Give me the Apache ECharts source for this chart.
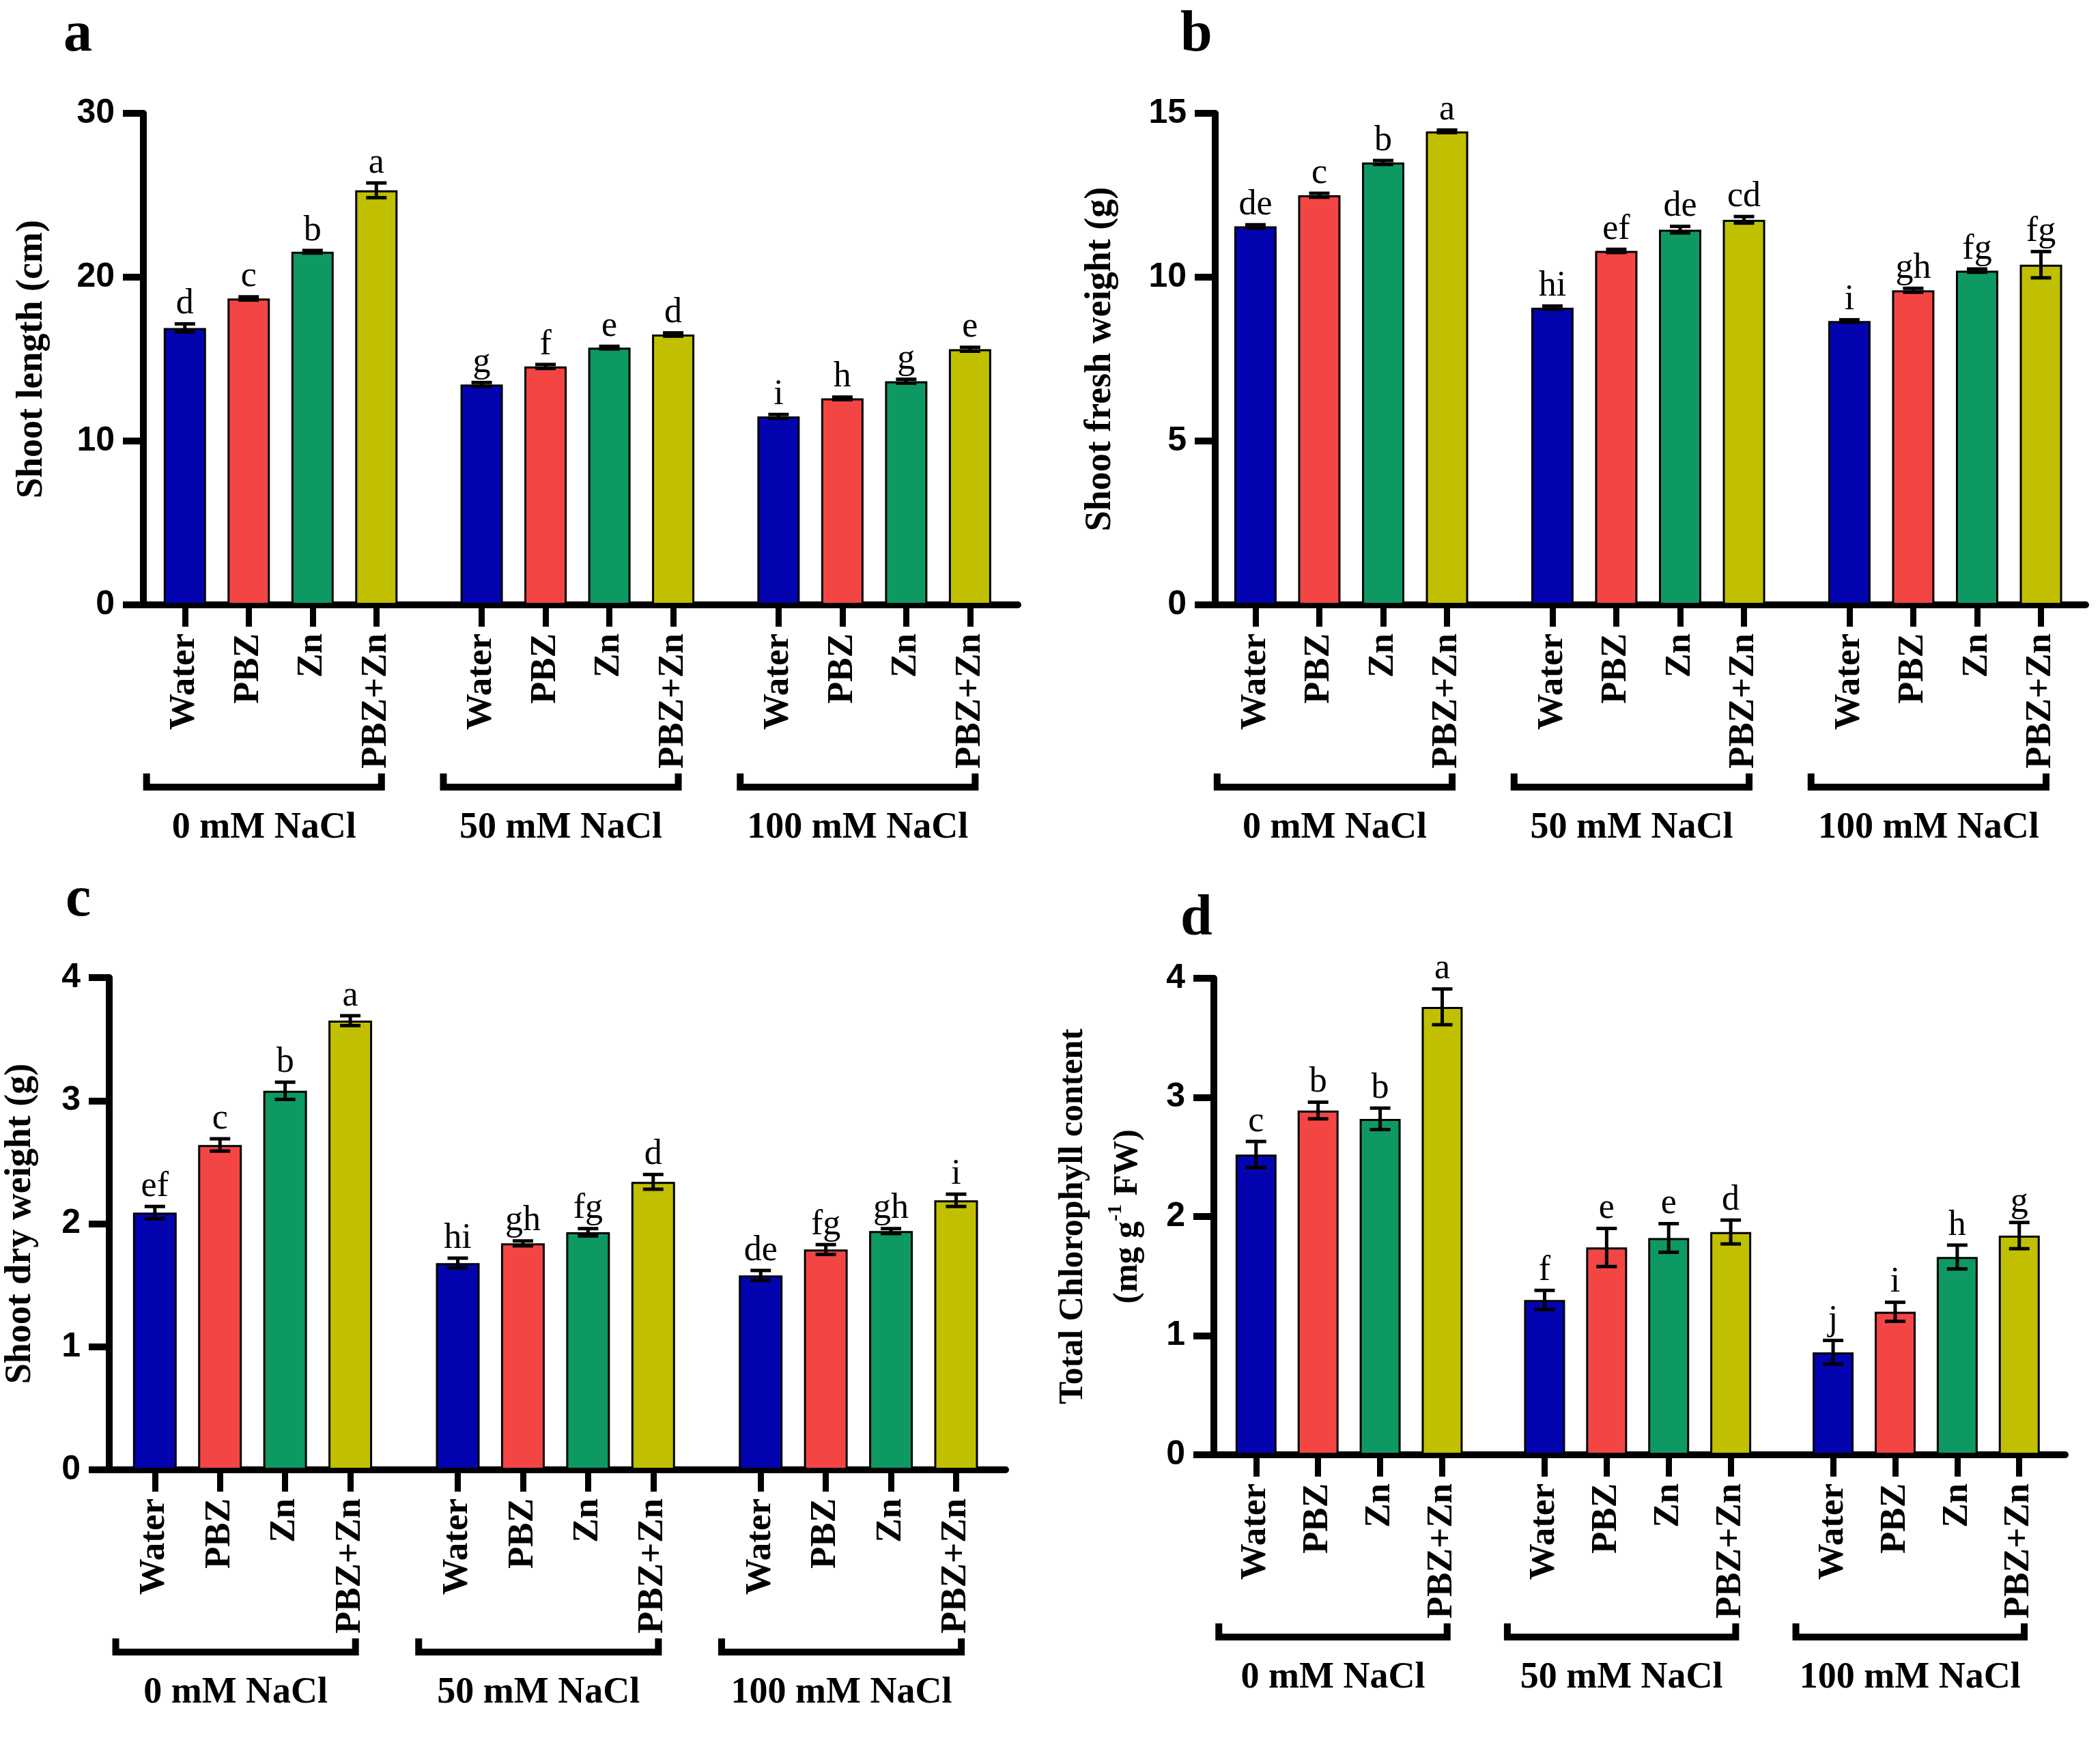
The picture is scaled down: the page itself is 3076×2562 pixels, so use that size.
<!DOCTYPE html>
<html>
<head>
<meta charset="utf-8">
<script src="https://cdn.jsdelivr.net/npm/echarts@6.0.0/dist/echarts.min.js"></script>
<style>
html, body {margin:0; padding:0; background:#fff;}
#main {width:3076px; height:2562px;}
</style>
</head>
<body>
<div id="main"></div>
<script>
// 处理和盐浓度
var treatments = ['Water', 'PBZ', 'Zn', 'PBZ+Zn'];
var groups = ['0 mM NaCl', '50 mM NaCl', '100 mM NaCl'];
var barColors = ['#0303b0', '#f44545', '#0e9963', '#c0c000'];

// a: Shoot length (cm)
var lengthTicks = [0, 10, 20, 30];
var lengthVals = [16.9, 18.7, 21.55, 25.3, 13.45, 14.55, 15.7, 16.5, 11.5, 12.6, 13.65, 15.6];
var lengthErr = [0.25, 0.1, 0.08, 0.45, 0.12, 0.12, 0.08, 0.1, 0.12, 0.08, 0.12, 0.12];
var lengthLetters = ['d', 'c', 'b', 'a', 'g', 'f', 'e', 'd', 'i', 'h', 'g', 'e'];

// b: Shoot fresh weight (g)
var freshTicks = [0, 5, 10, 15];
var freshVals = [11.55, 12.5, 13.5, 14.45, 9.07, 10.8, 11.45, 11.75, 8.66, 9.6, 10.2, 10.38];
var freshErr = [0.05, 0.06, 0.06, 0.04, 0.05, 0.05, 0.1, 0.1, 0.04, 0.06, 0.05, 0.4];
var freshLetters = ['de', 'c', 'b', 'a', 'hi', 'ef', 'de', 'cd', 'i', 'gh', 'fg', 'fg'];

// c: Shoot dry weight (g)
var dryTicks = [0, 1, 2, 3, 4];
var dryVals = [2.09, 2.64, 3.08, 3.65, 1.68, 1.84, 1.93, 2.34, 1.58, 1.79, 1.94, 2.19];
var dryErr = [0.05, 0.05, 0.07, 0.04, 0.04, 0.02, 0.03, 0.06, 0.04, 0.04, 0.02, 0.05];
var dryLetters = ['ef', 'c', 'b', 'a', 'hi', 'gh', 'fg', 'd', 'de', 'fg', 'gh', 'i'];

// d: Total chlorophyll content
var chlTicks = [0, 1, 2, 3, 4];
var chlVals = [2.52, 2.89, 2.82, 3.76, 1.30, 1.74, 1.82, 1.87, 0.86, 1.20, 1.66, 1.84];
var chlErr = [0.11, 0.07, 0.09, 0.15, 0.08, 0.16, 0.12, 0.10, 0.10, 0.08, 0.10, 0.11];
var chlLetters = ['c', 'b', 'b', 'a', 'f', 'e', 'e', 'd', 'j', 'i', 'h', 'g'];

var serif = 'Liberation Serif';
var sans = 'Liberation Sans';
var groupGap = 1.65; // 组间距(以柱位计)

// 每根柱子在x轴上的位置
var positions = [];
for (var g = 0; g < groups.length; g++) {
    for (var t = 0; t < treatments.length; t++) {
        positions.push(g * (treatments.length - 1 + groupGap) + t);
    }
}

var panels = [
    {tag: 'a', vals: lengthVals, err: lengthErr, letters: lengthLetters, ticks: lengthTicks,
     name: 'Shoot length (cm)', nameGap: 123, nameSize: 54,
     left: 210, top: 166, width: 1281, height: 720, xMin: -0.65, xMax: 13.05, barW: 62, tagLeft: 93, tagTop: 10},
    {tag: 'b', vals: freshVals, err: freshErr, letters: freshLetters, ticks: freshTicks,
     name: 'Shoot fresh weight (g)', nameGap: 128, nameSize: 54,
     left: 1780, top: 166, width: 1275, height: 720, xMin: -0.63, xMax: 13.0, barW: 62, tagLeft: 1729, tagTop: 10},
    {tag: 'c', vals: dryVals, err: dryErr, letters: dryLetters, ticks: dryTicks,
     name: 'Shoot dry weight (g)', nameGap: 90, nameSize: 54,
     left: 160, top: 1432, width: 1313, height: 721, xMin: -0.70, xMax: 13.06, barW: 64, tagLeft: 96, tagTop: 1277},
    {tag: 'd', vals: chlVals, err: chlErr, letters: chlLetters, ticks: chlTicks,
     name: 'Total Chlorophyll content\n(mg g{sup|-1} FW)', nameGap: 86, nameSize: 50,
     left: 1778, top: 1433, width: 1247, height: 698, xMin: -0.68, xMax: 13.04, barW: 60, tagLeft: 1729, tagTop: 1305}
];

function labelOf(v) {
    for (var k = 0; k < positions.length; k++) {
        if (Math.abs(positions[k] - v) < 1e-6) return treatments[k % treatments.length];
    }
    return '';
}

// 误差线 + 显著性字母
function errorRenderer(letters) {
    return function (params, api) {
        var x = api.value(0), y = api.value(1), e = api.value(2);
        var top = api.coord([x, y + e]);
        var bot = api.coord([x, y - e]);
        var cap = 15;
        var st = {stroke: '#000', lineWidth: 5};
        return {
            type: 'group',
            children: [
                {type: 'line', shape: {x1: top[0], y1: top[1], x2: bot[0], y2: bot[1]}, style: st},
                {type: 'line', shape: {x1: top[0] - cap, y1: top[1], x2: top[0] + cap, y2: top[1]}, style: st},
                {type: 'line', shape: {x1: bot[0] - cap, y1: bot[1], x2: bot[0] + cap, y2: bot[1]}, style: st},
                {type: 'text', x: top[0], y: top[1] - 3, style: {
                    text: letters[params.dataIndex], fill: '#000',
                    fontFamily: serif, fontSize: 52, align: 'center', verticalAlign: 'bottom'
                }}
            ]
        };
    };
}

// 分组括号 + 盐浓度标签
function bracketRenderer(params, api) {
    var a = api.coord([api.value(0), 0]);
    var b = api.coord([api.value(1), 0]);
    var y = a[1] + 267;
    return {
        type: 'group',
        children: [
            {type: 'polyline', shape: {points: [[a[0], y - 20], [a[0], y], [b[0], y], [b[0], y - 20]]},
             style: {stroke: '#000', fill: null, lineWidth: 10, lineJoin: 'miter'}},
            {type: 'text', x: (a[0] + b[0]) / 2, y: y + 60, style: {
                text: groups[params.dataIndex], fill: '#000',
                fontFamily: serif, fontWeight: 'bold', fontSize: 54, align: 'center', verticalAlign: 'middle'
            }}
        ]
    };
}

var option = {
    animation: false,
    backgroundColor: '#fff',
    title: [],
    grid: [],
    xAxis: [],
    yAxis: [],
    series: []
};

panels.forEach(function (p, i) {
    option.title.push({
        text: p.tag, left: p.tagLeft, top: p.tagTop, padding: 0,
        textStyle: {fontFamily: serif, fontWeight: 'bold', fontSize: 84, color: '#000'}
    });
    option.grid.push({
        left: p.left, top: p.top, width: p.width, height: p.height,
        containLabel: false, outerBoundsMode: 'none'
    });
    option.xAxis.push({
        gridIndex: i, type: 'value', min: p.xMin, max: p.xMax,
        splitLine: {show: false},
        axisLine: {show: true, onZero: false, lineStyle: {color: '#000', width: 10}},
        axisTick: {show: true, inside: false, length: 32, customValues: positions,
                   lineStyle: {color: '#000', width: 9}},
        axisLabel: {show: true, rotate: 90, margin: 42, customValues: positions,
                    formatter: labelOf, color: '#000',
                    fontFamily: serif, fontWeight: 'bold', fontSize: 53}
    });
    option.yAxis.push({
        gridIndex: i, type: 'value', min: p.ticks[0], max: p.ticks[p.ticks.length - 1],
        interval: p.ticks[1] - p.ticks[0],
        splitLine: {show: false},
        axisLine: {show: true, onZero: false, lineStyle: {color: '#000', width: 10}},
        axisTick: {show: true, length: 30, lineStyle: {color: '#000', width: 10}},
        axisLabel: {margin: 42, color: '#000', fontFamily: sans, fontWeight: 'bold', fontSize: 50},
        name: p.name, nameLocation: 'middle', nameRotate: 90, nameGap: p.nameGap, nameMoveOverlap: false,
        nameTextStyle: {
            color: '#000', fontFamily: serif, fontWeight: 'bold', fontSize: p.nameSize, lineHeight: 80,
            rich: {
                sup: {fontFamily: serif, fontWeight: 'bold', fontSize: 30, color: '#000',
                      verticalAlign: 'middle', padding: [0, 0, 36, 0]}
            }
        }
    });
    option.series.push({
        type: 'bar', xAxisIndex: i, yAxisIndex: i, barWidth: p.barW,
        data: p.vals.map(function (v, k) {
            return {value: [positions[k], v],
                    itemStyle: {color: barColors[k % barColors.length], borderColor: '#000', borderWidth: 3}};
        })
    });
    option.series.push({
        type: 'custom', xAxisIndex: i, yAxisIndex: i, z: 5,
        renderItem: errorRenderer(p.letters),
        data: p.vals.map(function (v, k) { return [positions[k], v, p.err[k]]; })
    });
    option.series.push({
        type: 'custom', xAxisIndex: i, yAxisIndex: i, z: 5, clip: false,
        renderItem: bracketRenderer,
        data: groups.map(function (gName, gi) {
            var n = treatments.length;
            return [positions[gi * n] - 0.6, positions[gi * n + n - 1] + 0.08];
        })
    });
});

var myChart = echarts.init(document.getElementById('main'));
myChart.setOption(option);
</script>
</body>
</html>
